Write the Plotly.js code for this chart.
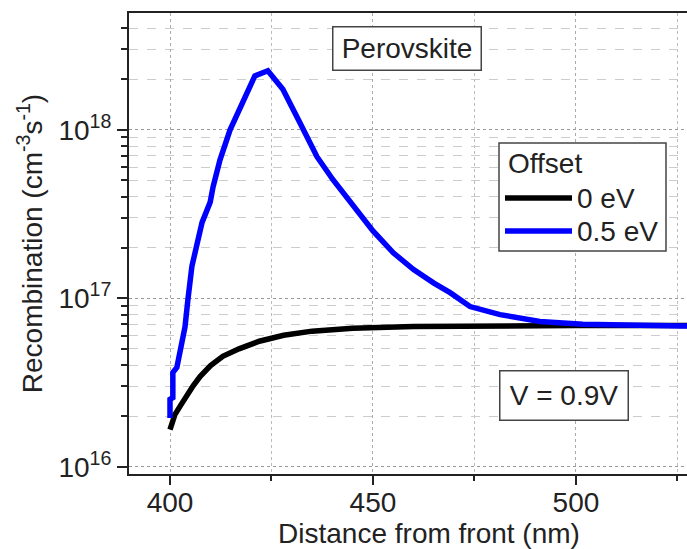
<!DOCTYPE html>
<html><head><meta charset="utf-8">
<script src="https://cdn.plot.ly/plotly-3.0.1.min.js"></script>
<style>html,body{margin:0;padding:0;overflow:hidden;background:#fff}#chart{width:740px;height:549px}</style>
</head><body><div id="chart"></div>
<script>
// ---- data ----
const seriesNames = ['0 eV', '0.5 eV'];
const legendTitle = 'Offset';
const distBlack = [400, 400.4, 401.2, 402.5, 404, 405.7, 407.4, 410, 413, 417, 422, 428, 435, 445, 460, 480, 500, 538];
const recBlack = [1.66e16, 1.82e16, 2.04e16, 2.29e16, 2.63e16, 3.02e16, 3.43e16, 3.98e16, 4.52e16, 5.01e16, 5.56e16, 6.03e16, 6.38e16, 6.64e16, 6.79e16, 6.85e16, 6.89e16, 6.89e16];
const distBlue = [400, 400, 400.7, 400.7, 401.7, 403.0, 403.7, 404.4, 404.9, 405.4, 407.9, 409.9, 410.6, 412.3, 414.8, 417.2, 419.7, 420.9, 424.1, 427.8, 432.0, 436.2, 440.1, 444.3, 450, 455, 460, 465, 469, 473.9, 481.3, 491.1, 501.7, 526.4, 538];
const recBlue = [1.95e16, 2.51e16, 2.57e16, 3.63e16, 3.89e16, 5.69e16, 6.76e16, 9.77e16, 1.35e17, 1.55e17, 2.82e17, 3.72e17, 4.57e17, 6.61e17, 1.00e18, 1.32e18, 1.78e18, 2.09e18, 2.24e18, 1.74e18, 1.10e18, 6.92e17, 5.07e17, 3.72e17, 2.51e17, 1.86e17, 1.48e17, 1.23e17, 1.08e17, 8.93e16, 8.00e16, 7.28e16, 7.00e16, 6.84e16, 6.82e16];
const xTickVals = [400, 450, 500];
const xMinorVals = [425, 475, 525];
const yTickVals = [1e16, 1e17, 1e18];
const yTickText = ['10<sup>16</sup>', '10<sup>17</sup>', '10<sup>18</sup>'];
const boxLabels = ['Perovskite', 'V = 0.9V'];

// ---- styling / layout ----
const FONT = 'Liberation Sans, Arial, Helvetica, sans-serif';
const FS = 28;
const W = 740, H = 549, L = 129, R = 729, T = 13, B = 474;
const px = x => (x - L) / (R - L);
const py = y => (B - y) / (B - T);
const yMinorVals = [];
for (let k = 15; k <= 18; k++) for (let m = 2; m <= 9; m++) yMinorVals.push(m * Math.pow(10, k));
const AX = '#222';
const colors = ['#000000', '#0000ff'];

const traces = [
  {x: distBlack, y: recBlack, name: seriesNames[0], type: 'scatter', mode: 'lines', line: {color: colors[0], width: 5.5}},
  {x: distBlue, y: recBlue, name: seriesNames[1], type: 'scatter', mode: 'lines', line: {color: colors[1], width: 5.5}}
];

const layout = {
  width: W, height: H,
  margin: {l: L, r: W - R, t: T, b: H - B, pad: 0},
  paper_bgcolor: '#fff', plot_bgcolor: '#fff',
  font: {family: FONT, size: FS, color: AX},
  showlegend: false,
  xaxis: {
    range: [389.9, 537.7], tickmode: 'array', tickvals: xTickVals,
    ticks: 'outside', ticklen: 9, tickwidth: 2, tickcolor: AX, ticklabelstandoff: -7,
    showline: true, linecolor: AX, linewidth: 2, mirror: true, zeroline: false,
    showgrid: true, gridcolor: '#aaa', gridwidth: 1, griddash: 'dot',
    minor: {tickmode: 'array', tickvals: xMinorVals, ticks: 'outside', ticklen: 5, tickwidth: 2, tickcolor: AX,
            showgrid: true, gridcolor: '#bbb', gridwidth: 1, griddash: 'dot'},
    tickfont: {size: FS, family: FONT, color: AX},
    title: {text: 'Distance from front (nm)', font: {size: FS, family: FONT, color: AX}}
  },
  yaxis: {
    type: 'log', range: [15.957, 18.693], tickmode: 'array', tickvals: yTickVals, ticktext: yTickText,
    ticks: 'outside', ticklen: 10, tickwidth: 2, tickcolor: AX,
    showline: true, linecolor: AX, linewidth: 2, mirror: true, zeroline: false,
    showgrid: true, gridcolor: '#999', gridwidth: 1, griddash: 'dot',
    minor: {tickmode: 'array', tickvals: yMinorVals, ticks: 'outside', ticklen: 6, tickwidth: 2, tickcolor: AX,
            showgrid: true, gridcolor: '#ccc', gridwidth: 1, griddash: 'dash'},
    tickfont: {size: FS, family: FONT, color: AX},
    title: {text: 'Recombination (cm<sup>-3</sup>s<sup>-1</sup>)', font: {size: FS, family: FONT, color: AX}, standoff: 8}
  },
  shapes: [
    {type: 'rect', xref: 'paper', yref: 'paper', x0: px(499), x1: px(666), y0: py(251), y1: py(143),
     fillcolor: '#fff', line: {color: '#444', width: 1.5}, layer: 'above'},
    {type: 'line', xref: 'paper', yref: 'paper', x0: px(505), x1: px(572), y0: py(198), y1: py(198),
     line: {color: colors[0], width: 5.5}, layer: 'above'},
    {type: 'line', xref: 'paper', yref: 'paper', x0: px(505), x1: px(572), y0: py(231), y1: py(231),
     line: {color: colors[1], width: 5.5}, layer: 'above'}
  ],
  annotations: [
    {text: boxLabels[0], xref: 'paper', yref: 'paper', x: px(407), y: py(48.5), xanchor: 'center', yanchor: 'middle',
     showarrow: false, width: 147, height: 42, borderpad: 0, bordercolor: '#444', borderwidth: 1.5, bgcolor: '#fff',
     font: {size: FS, family: FONT, color: AX}},
    {text: boxLabels[1], xref: 'paper', yref: 'paper', x: px(564), y: py(395.5), xanchor: 'center', yanchor: 'middle',
     showarrow: false, width: 127, height: 48, borderpad: 0, bordercolor: '#444', borderwidth: 1.5, bgcolor: '#fff',
     font: {size: FS, family: FONT, color: AX}},
    {text: legendTitle, xref: 'paper', yref: 'paper', x: px(506), y: py(163), xanchor: 'left', yanchor: 'middle',
     showarrow: false, font: {size: FS, family: FONT, color: AX}},
    {text: seriesNames[0], xref: 'paper', yref: 'paper', x: px(575), y: py(198), xanchor: 'left', yanchor: 'middle',
     showarrow: false, font: {size: FS, family: FONT, color: AX}},
    {text: seriesNames[1], xref: 'paper', yref: 'paper', x: px(575), y: py(231), xanchor: 'left', yanchor: 'middle',
     showarrow: false, font: {size: FS, family: FONT, color: AX}}
  ]
};

Plotly.newPlot('chart', traces, layout, {displayModeBar: false, staticPlot: true});
</script></body></html>
